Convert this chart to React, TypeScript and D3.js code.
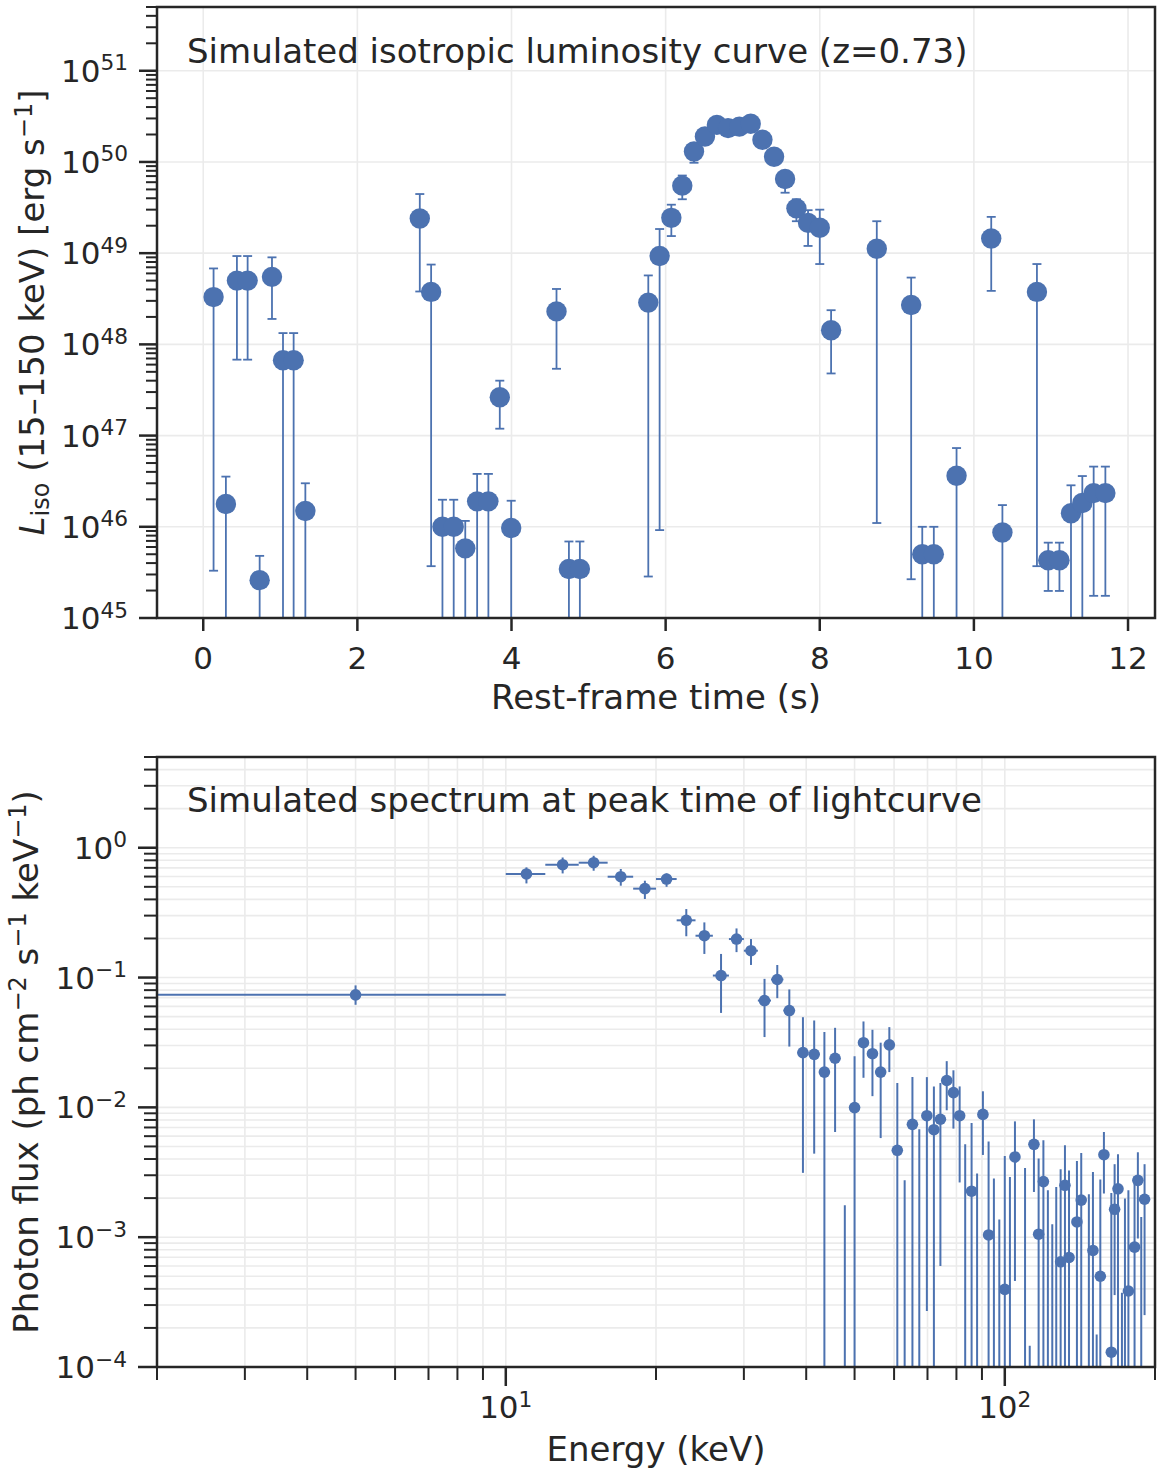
import React from 'react';
import * as d3 from 'd3';

const FONT = '"DejaVu Sans", "Liberation Sans", sans-serif';
const INK = '#262626';
const BLUE = '#4c72b0';
const GRID = '#ebebeb';

// ---------- Top panel: isotropic luminosity curve ----------
const times = [0.134, 0.294, 0.437, 0.576, 0.732, 0.892, 1.035, 1.173, 1.325, 2.81, 2.957, 3.104, 3.25, 3.4, 3.554, 3.7, 3.848, 3.996, 4.584, 4.745, 4.887, 5.775, 5.922, 6.074, 6.216, 6.368, 6.51, 6.665, 6.81, 6.957, 7.104, 7.256, 7.407, 7.55, 7.697, 7.848, 8.0, 8.147, 8.74, 9.186, 9.33, 9.48, 9.775, 10.225, 10.37, 10.818, 10.965, 11.11, 11.26, 11.407, 11.554, 11.706];
const lum = [3.3e48, 1.78e46, 5.0e48, 5.0e48, 2.6e45, 5.5e48, 6.7e47, 6.7e47, 1.49e46, 2.4e49, 3.76e48, 1.0e46, 1.0e46, 5.8e45, 1.9e46, 1.9e46, 2.63e47, 9.7e45, 2.3e48, 3.45e45, 3.45e45, 2.87e48, 9.3e48, 2.44e49, 5.5e49, 1.3e50, 1.9e50, 2.55e50, 2.35e50, 2.44e50, 2.62e50, 1.75e50, 1.14e50, 6.5e49, 3.1e49, 2.15e49, 1.9e49, 1.43e48, 1.12e49, 2.7e48, 5.0e45, 5.0e45, 3.63e46, 1.45e49, 8.65e45, 3.76e48, 4.3e45, 4.3e45, 1.41e46, 1.82e46, 2.34e46, 2.34e46];
const lumHi = [6.8e48, 3.55e46, 9.3e48, 9.3e48, 4.8e45, 9.0e48, 1.33e48, 1.33e48, 3.0e46, 4.45e49, 7.5e48, 1.98e46, 1.98e46, 1.16e46, 3.8e46, 3.8e46, 4.0e47, 1.93e46, 4.05e48, 6.9e45, 6.9e45, 5.7e48, 1.84e49, 3.4e49, 7.1e49, 1.55e50, 2.1e50, 2.8e50, 2.6e50, 2.7e50, 2.9e50, 1.95e50, 1.3e50, 7.6e49, 3.9e49, 2.96e49, 3.0e49, 2.37e48, 2.24e49, 5.4e48, 1.0e46, 1.0e46, 7.3e46, 2.5e49, 1.73e46, 7.6e48, 6.7e45, 6.7e45, 2.85e46, 3.6e46, 4.57e46, 4.57e46];
// 0 = lower bound below the plotted range
const lumLo = [3.3e45, 0, 6.8e47, 6.8e47, 0, 1.9e48, 0, 0, 0, 3.8e48, 3.7e45, 0, 0, 0, 0, 0, 1.19e47, 0, 5.4e47, 0, 0, 2.85e45, 9.2e45, 1.54e49, 3.9e49, 9.8e49, 1.7e50, 2.3e50, 2.1e50, 2.2e50, 2.4e50, 1.55e50, 1.0e50, 4.6e49, 2.24e49, 1.2e49, 7.6e48, 4.8e47, 1.1e46, 2.66e45, 0, 0, 0, 3.86e48, 0, 3.7e45, 1.98e45, 1.98e45, 0, 0, 1.75e45, 1.75e45];
const timeTicks = [0, 2, 4, 6, 8, 10, 12];
const lumDecades = [45, 46, 47, 48, 49, 50, 51];

// ---------- Bottom panel: spectrum ----------
const energy = [5, 11, 13, 15, 17, 19, 21, 23, 25, 27, 29, 31, 33, 35, 37, 39.4, 41.5, 43.5, 45.7, 47.8, 50.0, 52.1, 54.3, 56.4, 58.7, 60.9, 63.0, 65.3, 67.4, 69.8, 72.1, 74.3, 76.5, 78.9, 81.2, 83.3, 85.8, 88.0, 90.4, 92.8, 95.1, 97.5, 100.0, 102.4, 104.8, 109.8, 112.2, 114.4, 116.9, 119.5, 122.0, 124.5, 126.8, 129.4, 132.0, 134.5, 139.5, 142.3, 147.4, 150.2, 152.8, 155.4, 158.0, 163.5, 166.0, 168.6, 171.7, 174.1, 176.9, 182.0, 184.8, 187.7, 190.6];
const energyErr = [5, 1, 1, 1, 1, 1, 1, 1, 1, 1, 1, 1, 1, 1, 1, 1, 1, 1, 1, 1, 1, 1, 1, 1, 1, 1, 1, 1, 1, 1, 1, 1, 1, 1, 1, 1, 1, 1, 1, 1, 1, 1, 1, 1, 1, 1, 1, 1, 1, 1, 1, 1, 1, 1, 1, 1, 1, 1, 1, 1, 1, 1, 1, 1, 1, 1, 1, 1, 1, 1, 1, 1, 1];
// 0 = value below the plotted range (only the error bar is visible)
const flux = [0.0736, 0.628, 0.74, 0.767, 0.598, 0.484, 0.574, 0.276, 0.21, 0.1036, 0.198, 0.161, 0.0665, 0.0966, 0.0557, 0.0264, 0.0256, 0.0187, 0.0239, 0, 0.00996, 0.0315, 0.0259, 0.0187, 0.0303, 0.00467, 0, 0.0074, 0, 0.00863, 0.00673, 0.0081, 0.0161, 0.013, 0.00863, 0, 0.00226, 0, 0.00883, 0.00104, 0, 0, 0.000396, 0, 0.00415, 0, 0, 0.00519, 0.001054, 0.00268, 0, 0, 0, 0.000646, 0.00251, 0.000698, 0.00131, 0.00193, 0, 0.00079, 0, 0.0005, 0.00432, 0.00013, 0.00164, 0.00236, 0, 0, 0.000385, 0.000838, 0.00274, 0, 0.00196];
const fluxLo = [0.0617, 0.531, 0.634, 0.665, 0.51, 0.403, 0.5, 0.208, 0.152, 0.0534, 0.157, 0.125, 0.0348, 0.0694, 0.0294, 0.00313, 0.0044, 0, 0.00646, 0, 0, 0.0169, 0.0122, 0.0058, 0.0187, 0, 0, 0, 0, 0.00027, 0, 0.0006, 0.0095, 0.00686, 0.00264, 0, 0, 0, 0.0043, 0, 0, 0, 0, 0, 0.00046, 0, 0, 0.00223, 0, 0, 0, 0, 0, 0, 0, 0, 0, 0, 0, 0, 0, 0, 0.00217, 0, 0.000358, 0, 0, 0, 0, 0, 0.000977, 0, 0.000251];
const fluxHi = [0.087, 0.706, 0.841, 0.867, 0.686, 0.557, 0.634, 0.337, 0.266, 0.152, 0.239, 0.198, 0.0977, 0.125, 0.081, 0.0495, 0.0467, 0.038, 0.041, 0.00176, 0.0248, 0.0459, 0.0396, 0.0315, 0.0415, 0.0154, 0.00274, 0.0171, 0.00678, 0.0171, 0.0145, 0.0154, 0.0227, 0.0193, 0.0145, 0.0052, 0.00757, 0.00309, 0.0133, 0.00547, 0.00283, 0.00137, 0.00422, 0.00291, 0.0078, 0.00341, 0.000146, 0.00809, 0.00403, 0.00557, 0.0023, 0.00126, 0.00244, 0.00333, 0.0051, 0.00327, 0.00386, 0.00445, 0.00214, 0.00318, 0.000178, 0.00278, 0.00646, 0.00219, 0.00365, 0.00435, 0.000373, 0.00199, 0.0023, 0.00294, 0.00451, 0.00143, 0.00365];
const energyDecades = [1, 2];
const fluxDecades = [-4, -3, -2, -1, 0];

const TOP = { left: 157, right: 1155, top: 7, bottom: 618 };
const BOT = { left: 157, right: 1155, top: 757, bottom: 1367 };

const minorsOf = (decades: number[], lo: number, hi: number) => {
  const out: number[] = [];
  const all = [decades[0] - 1, ...decades];
  all.forEach((d) => {
    for (let k = 2; k <= 9; k++) {
      const v = k * Math.pow(10, d);
      if (v >= lo * 0.999 && v <= hi * 1.001) out.push(v);
    }
  });
  return out;
};

const supExp = (n: number) => (n < 0 ? '\u2212' + Math.abs(n) : String(n));

function Pow({ x, y, exp, anchor, size }: { x: number; y: number; exp: number; anchor: string; size: number }) {
  return (
    <text x={x} y={y} textAnchor={anchor as any} fontSize={size} fill={INK} fontFamily={FONT}>
      <tspan>10</tspan>
      <tspan dy={-size * 0.37} fontSize={size * 0.7}>{supExp(exp)}</tspan>
    </text>
  );
}

function TopPanel() {
  const x = d3.scaleLinear().domain([-0.6, 12.35]).range([TOP.left, TOP.right]);
  const y = d3.scaleLog().domain([1e45, 5e51]).range([TOP.bottom, TOP.top]);
  const [ylo, yhi] = y.domain();
  const minors = minorsOf(lumDecades, ylo, yhi);
  const clamp = (v: number) => (v > 0 ? v : 1e43);
  return (
    <g>
      <defs>
        <clipPath id="clipTop">
          <rect x={TOP.left} y={TOP.top} width={TOP.right - TOP.left} height={TOP.bottom - TOP.top} />
        </clipPath>
      </defs>
      {/* grid */}
      {timeTicks.map((t) => (
        <line key={'gx' + t} x1={x(t)} x2={x(t)} y1={TOP.top} y2={TOP.bottom} stroke={GRID} strokeWidth={1.6} />
      ))}
      {lumDecades.map((d) => (
        <line key={'gy' + d} x1={TOP.left} x2={TOP.right} y1={y(Math.pow(10, d))} y2={y(Math.pow(10, d))} stroke={GRID} strokeWidth={1.6} />
      ))}
      {/* error bars and points */}
      <g clipPath="url(#clipTop)">
        {times.map((t, i) => {
          const cx = x(t);
          const yTop = y(lumHi[i]);
          const yBot = y(clamp(lumLo[i]));
          return (
            <g key={'e' + i} stroke={BLUE} strokeWidth={1.8}>
              <line x1={cx} x2={cx} y1={yTop} y2={yBot} />
              <line x1={cx - 4.5} x2={cx + 4.5} y1={yTop} y2={yTop} />
              {lumLo[i] > 0 && <line x1={cx - 4.5} x2={cx + 4.5} y1={yBot} y2={yBot} />}
            </g>
          );
        })}
        {times.map((t, i) => (
          <circle key={'p' + i} cx={x(t)} cy={y(lum[i])} r={10.2} fill={BLUE} />
        ))}
      </g>
      {/* ticks */}
      {lumDecades.map((d) => {
        const yy = y(Math.pow(10, d));
        return (
          <g key={'ty' + d}>
            <line x1={TOP.left - 18} x2={TOP.left} y1={yy} y2={yy} stroke={INK} strokeWidth={2.5} />
            <Pow x={128} y={yy + 11} exp={d} anchor="end" size={31} />
          </g>
        );
      })}
      {minors.map((v, i) => (
        <line key={'my' + i} x1={TOP.left - 11} x2={TOP.left} y1={y(v)} y2={y(v)} stroke={INK} strokeWidth={2} />
      ))}
      {timeTicks.map((t) => (
        <g key={'tx' + t}>
          <line x1={x(t)} x2={x(t)} y1={TOP.bottom} y2={TOP.bottom + 13} stroke={INK} strokeWidth={2.5} />
          <text x={x(t)} y={669} textAnchor="middle" fontSize={31} fill={INK} fontFamily={FONT}>{t}</text>
        </g>
      ))}
      <rect x={TOP.left} y={TOP.top} width={TOP.right - TOP.left} height={TOP.bottom - TOP.top} fill="none" stroke={INK} strokeWidth={2.5} />
      {/* texts */}
      <text x={187} y={63} fontSize={34} fill={INK} fontFamily={FONT}>Simulated isotropic luminosity curve (z=0.73)</text>
      <text x={(TOP.left + TOP.right) / 2} y={709} textAnchor="middle" fontSize={34} fill={INK} fontFamily={FONT}>Rest-frame time (s)</text>
      <text transform={`translate(43.5, ${(TOP.top + TOP.bottom) / 2}) rotate(-90)`} textAnchor="middle" fontSize={34} fill={INK} fontFamily={FONT}>
        <tspan fontStyle="italic">L</tspan>
        <tspan dy={5} fontSize={24}>iso</tspan>
        <tspan dy={-5}> (15–150 keV) [erg s</tspan>
        <tspan dy={-12} fontSize={24}>{'\u22121'}</tspan>
        <tspan dy={12}>]</tspan>
      </text>
    </g>
  );
}

function BottomPanel() {
  const x = d3.scaleLog().domain([2, 200]).range([BOT.left, BOT.right]);
  const y = d3.scaleLog().domain([1e-4, 5]).range([BOT.bottom, BOT.top]);
  const [xlo, xhi] = x.domain();
  const [ylo, yhi] = y.domain();
  const xMinors = minorsOf(energyDecades, xlo, xhi);
  const yMinors = minorsOf(fluxDecades, ylo, yhi);
  const clamp = (v: number) => (v > 0 ? v : 1e-6);
  return (
    <g>
      <defs>
        <clipPath id="clipBot">
          <rect x={BOT.left} y={BOT.top} width={BOT.right - BOT.left} height={BOT.bottom - BOT.top} />
        </clipPath>
      </defs>
      {/* grid: major and minor */}
      {[...xMinors, ...energyDecades.map((d) => Math.pow(10, d))].map((v, i) => (
        <line key={'gx' + i} x1={x(v)} x2={x(v)} y1={BOT.top} y2={BOT.bottom} stroke={GRID} strokeWidth={1.6} />
      ))}
      {[...yMinors, ...fluxDecades.map((d) => Math.pow(10, d))].map((v, i) => (
        <line key={'gy' + i} x1={BOT.left} x2={BOT.right} y1={y(v)} y2={y(v)} stroke={GRID} strokeWidth={1.6} />
      ))}
      <g clipPath="url(#clipBot)">
        {energy.map((e, i) => {
          const cx = x(e);
          return (
            <g key={'e' + i} stroke={BLUE} strokeWidth={2}>
              <line x1={cx} x2={cx} y1={y(fluxHi[i])} y2={y(clamp(fluxLo[i]))} />
              {flux[i] > 0 && (
                <line x1={x(Math.max(e - energyErr[i], 1))} x2={x(e + energyErr[i])} y1={y(flux[i])} y2={y(flux[i])} />
              )}
            </g>
          );
        })}
        {energy.map((e, i) =>
          flux[i] > 0 ? <circle key={'p' + i} cx={x(e)} cy={y(flux[i])} r={5.8} fill={BLUE} /> : null
        )}
      </g>
      {/* ticks */}
      {fluxDecades.map((d) => {
        const yy = y(Math.pow(10, d));
        return (
          <g key={'ty' + d}>
            <line x1={BOT.left - 19} x2={BOT.left} y1={yy} y2={yy} stroke={INK} strokeWidth={2.5} />
            <Pow x={127} y={yy + 11} exp={d} anchor="end" size={31} />
          </g>
        );
      })}
      {yMinors.map((v, i) => (
        <line key={'my' + i} x1={BOT.left - 13} x2={BOT.left} y1={y(v)} y2={y(v)} stroke={INK} strokeWidth={2} />
      ))}
      {energyDecades.map((d) => {
        const xx = x(Math.pow(10, d));
        return (
          <g key={'tx' + d}>
            <line x1={xx} x2={xx} y1={BOT.bottom} y2={BOT.bottom + 19} stroke={INK} strokeWidth={2.5} />
            <Pow x={xx} y={1418} exp={d} anchor="middle" size={31} />
          </g>
        );
      })}
      {xMinors.map((v, i) => (
        <line key={'mx' + i} x1={x(v)} x2={x(v)} y1={BOT.bottom} y2={BOT.bottom + 13} stroke={INK} strokeWidth={2} />
      ))}
      <rect x={BOT.left} y={BOT.top} width={BOT.right - BOT.left} height={BOT.bottom - BOT.top} fill="none" stroke={INK} strokeWidth={2.5} />
      <text x={187} y={812} fontSize={34} fill={INK} fontFamily={FONT}>Simulated spectrum at peak time of lightcurve</text>
      <text x={(BOT.left + BOT.right) / 2} y={1461} textAnchor="middle" fontSize={34} fill={INK} fontFamily={FONT}>Energy (keV)</text>
      <text transform={`translate(37.5, ${(BOT.top + BOT.bottom) / 2}) rotate(-90)`} textAnchor="middle" fontSize={34} fill={INK} fontFamily={FONT}>
        <tspan>Photon flux (ph cm</tspan>
        <tspan dy={-12} fontSize={24}>{'\u22122'}</tspan>
        <tspan dy={12}> s</tspan>
        <tspan dy={-12} fontSize={24}>{'\u22121'}</tspan>
        <tspan dy={12}> keV</tspan>
        <tspan dy={-12} fontSize={24}>{'\u22121'}</tspan>
        <tspan dy={12}>)</tspan>
      </text>
    </g>
  );
}

export default function App() {
  return (
    <svg
      width={1157}
      height={1470}
      viewBox="0 0 1157 1470"
      style={{ position: 'absolute', left: 0, top: 0, background: '#ffffff' }}
    >
      <rect x={0} y={0} width={1157} height={1470} fill="#ffffff" />
      <TopPanel />
      <BottomPanel />
    </svg>
  );
}
